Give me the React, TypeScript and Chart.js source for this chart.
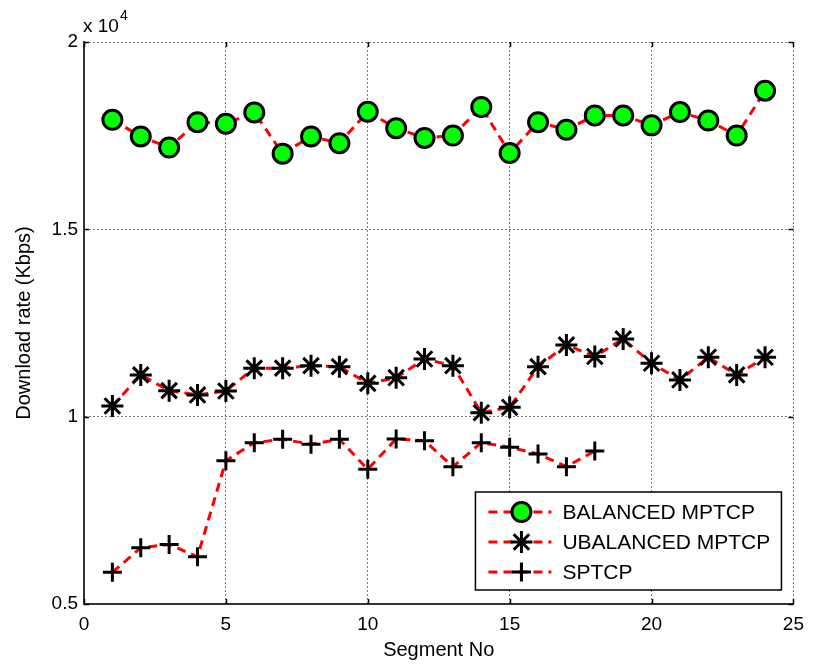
import React, { useEffect, useRef } from "react";
import { Chart, registerables } from "chart.js";

Chart.register(...registerables);

const segments = [1, 2, 3, 4, 5, 6, 7, 8, 9, 10, 11, 12, 13, 14, 15, 16, 17, 18, 19, 20, 21, 22, 23, 24];
const balanced = [17925, 17480, 17185, 17860, 17820, 18120, 17020, 17480, 17300, 18140, 17700, 17440, 17505, 18265, 17035, 17860, 17660, 18040, 18040, 17775, 18130, 17905, 17505, 18700];
const unbalanced = [10285, 11115, 10695, 10580, 10685, 11295, 11295, 11360, 11335, 10890, 11040, 11540, 11360, 10105, 10250, 11335, 11915, 11605, 12075, 11425, 10980, 11585, 11115, 11585];
const sptcp = [5845, 6500, 6590, 6260, 8825, 9305, 9395, 9265, 9395, 8595, 9405, 9360, 8665, 9305, 9185, 9005, 8665, 9085];
const seriesNames = ["BALANCED MPTCP", "UBALANCED MPTCP", "SPTCP"];
const xTicks = [0, 5, 10, 15, 20, 25];
const yTicks = [5000, 10000, 15000, 20000];

const FONT = '"Liberation Sans", Arial, sans-serif';

function drawMarker(ctx: CanvasRenderingContext2D, style: string, x: number, y: number) {
  ctx.save();
  ctx.setLineDash([]);
  ctx.strokeStyle = "#000";
  ctx.lineWidth = 3;
  if (style === "circle") {
    ctx.beginPath();
    ctx.arc(x, y, 9.5, 0, Math.PI * 2);
    ctx.fillStyle = "#00ff00";
    ctx.fill();
    ctx.stroke();
  } else if (style === "star") {
    const r = 11;
    const d = r * Math.SQRT1_2;
    ctx.beginPath();
    ctx.moveTo(x - r, y); ctx.lineTo(x + r, y);
    ctx.moveTo(x, y - r); ctx.lineTo(x, y + r);
    ctx.moveTo(x - d, y - d); ctx.lineTo(x + d, y + d);
    ctx.moveTo(x - d, y + d); ctx.lineTo(x + d, y - d);
    ctx.stroke();
  } else {
    const r = 9.5;
    ctx.beginPath();
    ctx.moveTo(x - r, y); ctx.lineTo(x + r, y);
    ctx.moveTo(x, y - r); ctx.lineTo(x, y + r);
    ctx.stroke();
  }
  ctx.restore();
}

const decorPlugin = {
  id: "decor",
  afterDatasetsDraw(chart: any) {
    const { ctx, chartArea, scales } = chart;
    const xs = scales.x;
    const ys = scales.y;
    ctx.save();
    // inward tick marks
    ctx.strokeStyle = "#000";
    ctx.lineWidth = 1.5;
    ctx.setLineDash([]);
    const tl = 5;
    ctx.beginPath();
    xTicks.forEach((t) => {
      const px = Math.round(xs.getPixelForValue(t)) + 0.5;
      ctx.moveTo(px, chartArea.bottom); ctx.lineTo(px, chartArea.bottom - tl);
      ctx.moveTo(px, chartArea.top); ctx.lineTo(px, chartArea.top + tl);
    });
    yTicks.forEach((t) => {
      const py = Math.round(ys.getPixelForValue(t)) + 0.5;
      ctx.moveTo(chartArea.left, py); ctx.lineTo(chartArea.left + tl, py);
      ctx.moveTo(chartArea.right, py); ctx.lineTo(chartArea.right - tl, py);
    });
    ctx.stroke();

    // exponent label
    ctx.fillStyle = "#000";
    ctx.textBaseline = "alphabetic";
    ctx.textAlign = "left";
    ctx.font = `19px ${FONT}`;
    ctx.fillText("x 10", chartArea.left - 1, chartArea.top - 10);
    const w = ctx.measureText("x 10").width;
    ctx.font = `14px ${FONT}`;
    ctx.fillText("4", chartArea.left - 1 + w + 1, chartArea.top - 22);

    // legend
    const bx = chartArea.right - 318;
    const by = chartArea.bottom - 112;
    const bw = 306;
    const bh = 98;
    ctx.fillStyle = "#fff";
    ctx.fillRect(bx, by, bw, bh);
    ctx.strokeStyle = "#000";
    ctx.lineWidth = 1.5;
    ctx.strokeRect(bx, by, bw, bh);
    const styles = ["circle", "star", "cross"];
    chart.data.datasets.forEach((ds: any, i: number) => {
      const cy = by + 20 + i * 30;
      ctx.save();
      ctx.strokeStyle = "#ff0000";
      ctx.lineWidth = 3;
      ctx.setLineDash([9, 6]);
      ctx.beginPath();
      ctx.moveTo(bx + 13, cy);
      ctx.lineTo(bx + 76, cy);
      ctx.stroke();
      ctx.restore();
      drawMarker(ctx, styles[i], bx + 46, cy);
      ctx.fillStyle = "#000";
      ctx.font = `21px ${FONT}`;
      ctx.textBaseline = "middle";
      ctx.textAlign = "left";
      ctx.fillText(ds.label, bx + 87, cy + 1);
    });
    ctx.restore();
  },
};

export default function App() {
  const ref = useRef<HTMLCanvasElement>(null);
  useEffect(() => {
    if (!ref.current) return;
    const mk = (vals: number[]) => vals.map((v, i) => ({ x: segments[i], y: v }));
    const common = {
      borderColor: "#ff0000",
      borderWidth: 3,
      borderDash: [9, 6],
      pointBorderColor: "#000",
      pointBorderWidth: 3,
      pointHoverRadius: 10,
      fill: false,
      tension: 0,
    };
    const chart = new Chart(ref.current, {
      type: "line",
      data: {
        datasets: [
          { ...common, label: seriesNames[0], data: mk(balanced), pointStyle: "circle", pointRadius: 9.5, pointBackgroundColor: "#00ff00" },
          { ...common, label: seriesNames[1], data: mk(unbalanced), pointStyle: "star", pointRadius: 11, pointBackgroundColor: "#000" },
          { ...common, label: seriesNames[2], data: mk(sptcp), pointStyle: "cross", pointRadius: 9.5, pointBackgroundColor: "#000" },
        ],
      },
      options: {
        responsive: false,
        animation: false,
        devicePixelRatio: 1,
        layout: { padding: { left: 0, right: 16, top: 42, bottom: 0 } },
        plugins: { legend: { display: false }, tooltip: { enabled: false } },
        scales: {
          x: {
            type: "linear",
            min: 0,
            max: 25,
            afterFit: (s: any) => { s.height = 62; },
            afterBuildTicks: (s: any) => { s.ticks = xTicks.map((v) => ({ value: v })); },
            ticks: { color: "#000", font: { family: FONT, size: 19 }, padding: 9, maxRotation: 0 },
            grid: { color: "#7a7a7a", lineWidth: 1, drawTicks: false },
            border: { display: true, color: "#333", width: 2, dash: [2, 2] },
            title: { display: true, text: "Segment No", color: "#000", font: { family: FONT, size: 20 }, padding: { bottom: 4, top: 0 } },
          },
          y: {
            type: "linear",
            min: 5000,
            max: 20000,
            afterFit: (s: any) => { s.width = 84; },
            afterBuildTicks: (s: any) => { s.ticks = yTicks.map((v) => ({ value: v })); },
            ticks: { color: "#000", font: { family: FONT, size: 19 }, padding: 6, callback: (v: any) => String(Number(v) / 10000) },
            grid: { color: "#7a7a7a", lineWidth: 1, drawTicks: false },
            border: { display: true, color: "#333", width: 2, dash: [2, 2] },
            title: { display: true, text: "Download rate (Kbps)", color: "#000", font: { family: FONT, size: 20 }, padding: { top: 12, bottom: 0 } },
          },
        },
      },
      plugins: [decorPlugin],
    } as any);
    return () => chart.destroy();
  }, []);
  return (
    <div style={{ position: "fixed", left: 0, top: 0, width: 813, height: 666, background: "#fff" }}>
      <canvas ref={ref} width={813} height={666} style={{ display: "block" }} />
    </div>
  );
}
